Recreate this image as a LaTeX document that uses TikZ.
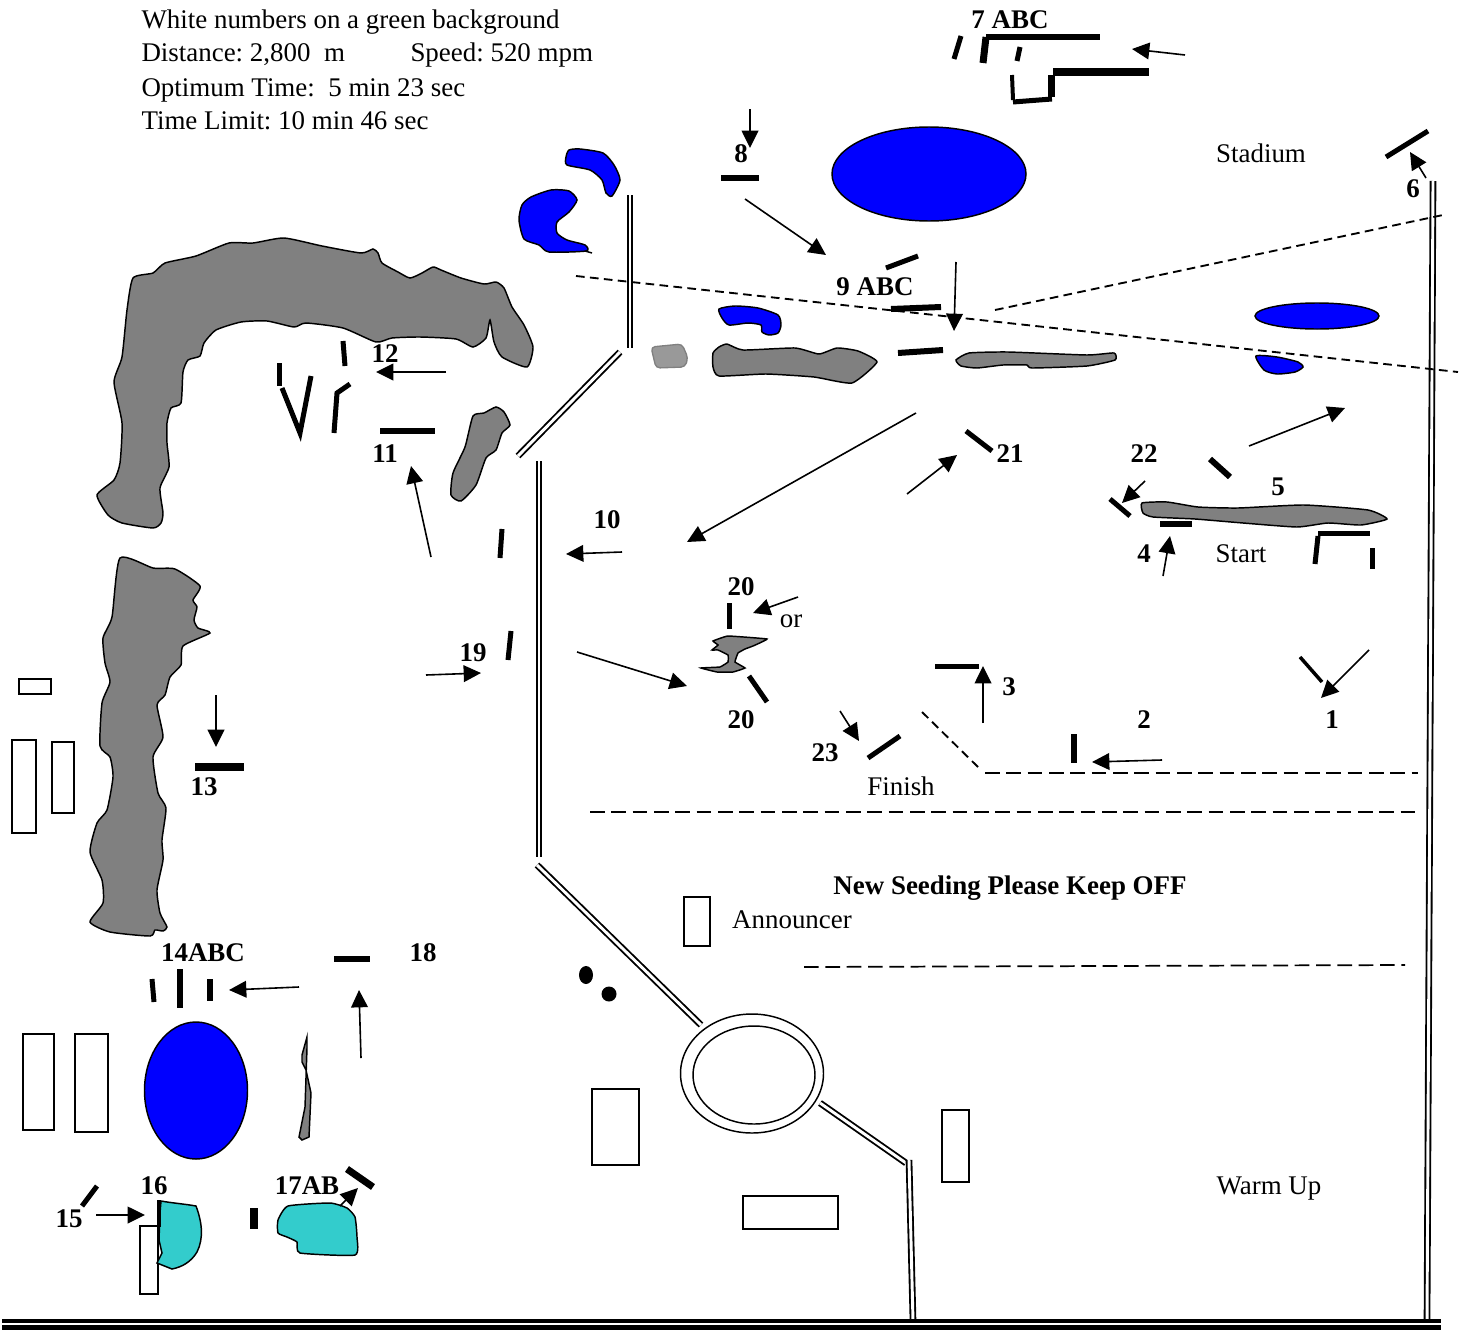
\documentclass[tikz,border=0pt]{standalone}
\usepackage{fontspec}
\setmainfont{Liberation Serif}
\usetikzlibrary{arrows.meta}
\definecolor{waterblue}{RGB}{0,0,255}
\definecolor{hedgegrey}{RGB}{128,128,128}
\definecolor{pondteal}{RGB}{51,204,204}
\tikzset{every picture/.style={line width=0.75pt},
  fence/.style={line width=#1*0.75pt},
  fence/.default=5,
  flowarrow/.style={line width=1.2pt,-{Triangle[length=13pt,width=12.5pt]}},
  roadline/.style={double,double distance=2.2pt,line width=1.4pt},
  hutbox/.style={draw,line width=1.1pt,fill=white},
  hedge/.style={draw,line width=1.1pt,fill=hedgegrey},
  water/.style={draw,line width=1.1pt,fill=waterblue},
  teal area/.style={draw,line width=1.1pt,fill=pondteal},
  ropeline/.style={line width=1.3pt,dash pattern=on 11pt off 5pt},
  ropefine/.style={line width=1.4pt,dash pattern=on 6.5pt off 4pt},
  lbl/.style={anchor=base,inner sep=0pt,font=\fontsize{20.2}{24}\selectfont\frenchspacing},
  numlbl/.style={lbl,font=\fontsize{20.2}{24}\selectfont\frenchspacing\bfseries},
  headlbl/.style={lbl,anchor=base west}}

\begin{document}
\begin{tikzpicture}[x=0.75pt,y=0.75pt,yscale=-1,xscale=1]
\useasboundingbox (0,0) rectangle (1462,1331);

%Shape: Grey hedges
\draw [hedge] plot [smooth cycle,tension=0.35] coordinates {(133,278) (153,273) (165,263) (196,256) (229,243) (253,243) (284,238) (322,246) (361,253) (373,249) (378,253) (382,263) (398,272) (410,278) (422,273) (433,267) (441,270) (461,278) (484,284) (496,282) (504,288) (512,307) (524,325) (533,347) (527,367) (502,357) (494,342) (490,320) (486,338) (473,347) (456,339) (420,337) (392,338) (376,342) (343,328) (306,323) (294,327) (267,321) (241,322) (216,330) (204,343) (200,356) (188,360) (183,372) (181,403) (171,408) (167,423) (167,443) (169,467) (160,488) (163,513) (161,523) (153,528) (122,523) (108,515) (97,495) (114,480) (120,463) (122,423) (114,382) (122,357) (127,310)};
\draw [hedge] plot [smooth cycle,tension=0.35] coordinates {(120,558) (153,568) (175,569) (200,586) (193,600) (197,607) (194,620) (198,628) (210,633) (183,646) (181,665) (170,677) (165,695) (157,705) (163,737) (153,757) (158,793) (166,808) (162,840) (163,860) (157,890) (160,913) (167,927) (163,931) (155,930) (150,936) (110,932) (90,922) (103,903) (102,880) (90,852) (97,823) (107,810) (113,777) (110,757) (100,746) (102,703) (110,682) (105,663) (103,638) (112,617)};
\draw [hedge] plot [smooth cycle,tension=0.35] coordinates {(473,416) (484,413) (496,407) (504,412) (510,425) (502,433) (496,450) (486,458) (476,485) (461,501) (451,495) (453,473) (465,447)};
\draw [hedge] plot [smooth cycle,tension=0.3] coordinates {(719,347) (727,344) (743,350) (795,348) (819,354) (837,348) (858,351) (877,362) (852,383) (814,377) (766,374) (719,376) (713,367) (713,353)};
\draw [hedge] plot [smooth cycle,tension=0.3] coordinates {(956,360) (969,353) (1008,352) (1087,355) (1114,353) (1115,360) (1087,366) (1032,368) (1027,365) (1003,365) (977,368) (961,366)};
\draw [hedge] plot [smooth cycle,tension=0.3] coordinates {(1142,503) (1167,502) (1198,507) (1238,508) (1304,505) (1368,510) (1387,519) (1361,525) (1328,523) (1297,527) (1243,523) (1195,519) (1153,517) (1143,513)};
\draw [hedge] plot [smooth cycle,tension=0.15] coordinates {(713,641) (728,636) (767,639) (753,646) (745,649) (738,653) (735,662) (745,668) (733,672) (717,672) (701,668) (720,667) (728,662) (728,655) (718,650) (712,650) (718,645)};
\draw [hedge] (307,1037) -- (302,1055) -- (302,1062) -- (306,1070) -- (311,1093) -- (309,1137) -- (302,1140) -- (299,1137) -- (305,1107) -- (307,1048) -- cycle;
\draw [draw=hedgegrey,fill=hedgegrey!80,line width=1pt,rounded corners=3pt] (651,347) -- (682,344) -- (688,358) -- (685,367) -- (656,368) -- cycle;

%Shape: Water
\draw [water] (929,174) ellipse (97 and 47);
\draw [water] (1317,316) ellipse (62 and 13);
\draw [water] (196,1090.5) ellipse (51.5 and 68.5);
\draw [water] plot [smooth cycle,tension=0.4] coordinates {(569,150) (580,149) (603,153) (614,165) (620,180) (612,196) (606,193) (602,180) (590,170) (567,165) (566,157)};
\draw [water] plot [smooth cycle,tension=0.4] coordinates {(522,205) (531,197) (551,190) (569,191) (577,200) (569,212) (557,222) (557,233) (567,240) (585,245) (586,251) (549,252) (539,245) (524,239) (519,220)};
\draw [line width=1.1pt] (585,251) -- (592,253);
\draw [water] plot [smooth cycle,tension=0.4] coordinates {(719,309) (735,306) (758,308) (778,315) (781,325) (778,333) (769,335) (762,332) (761,325) (748,323) (729,325) (722,318)};
\draw [water] plot [smooth cycle,tension=0.4] coordinates {(1256,356) (1277,357) (1298,362) (1303,367) (1295,372) (1277,374) (1264,370)};

%Shape: Teal ponds
\draw [teal area] plot [smooth cycle,tension=0.3] coordinates {(288,1206) (330,1203) (347,1208) (355,1217) (357,1237) (355,1255) (300,1253) (297,1242) (287,1237) (278,1233) (278,1220)};

%Shape: Rectangles
\draw [hutbox] (19,679) rectangle (51,694);
\draw [hutbox] (12,740) rectangle (36,833);
\draw [hutbox] (52,742) rectangle (74,813);
\draw [hutbox] (23,1034) rectangle (54,1130);
\draw [hutbox] (75,1034) rectangle (108,1132);
\draw [hutbox] (140,1226) rectangle (158,1294);
\draw [hutbox] (684,897) rectangle (710,946);
\draw [hutbox] (592,1089) rectangle (639,1165);
\draw [hutbox] (743,1196) rectangle (838,1229);
\draw [hutbox] (942,1110) rectangle (969,1182);
\draw [teal area] (161,1201) .. controls (172,1203) and (185,1204) .. (196,1206) .. controls (202,1222) and (204,1238) .. (197,1252) .. controls (191,1262) and (182,1267) .. (172,1269) -- (157,1263) -- (162,1253) -- (159,1240) -- (160,1213) -- cycle;
\draw [fence=4] (159,1200) -- (159,1227);

%Shape: Ring
\draw [line width=1.1pt] (752,1073.5) ellipse (71.5 and 59.5);
\draw [line width=1.1pt] (754,1075) ellipse (61 and 49);
\fill (586,975) ellipse (7 and 9);
\fill (609,994) circle (7.5);

%Straight Lines: roads
\draw [roadline] (630,195) -- (630,348);
\draw [roadline] (620,352) -- (518,456);
\draw [roadline] (539,461) -- (539,857);
\draw [roadline] (537,865) -- (701,1025);
\draw [roadline] (820,1103) -- (906,1163);
\draw [roadline] (909,1160) -- (913,1321);
\draw [roadline] (1433,181) -- (1427,1321);
\draw [line width=2.3pt] (2,1321) -- (1441,1321);
\draw [line width=3.6pt] (2,1327.5) -- (1441,1327.5);

%Straight Lines: dashed ropes
\draw [ropefine] (576,276) -- (1458,372);
\draw [ropefine] (995,310) -- (1443,215);
\draw [ropefine] (922,712) -- (978,767);
\draw [ropeline] (985,773) -- (1418,773);
\draw [ropeline] (590,812) -- (1420,812);
\draw [ropeline] (804,967) -- (1405,965);

%Straight Lines: fences
\draw [fence] (961,36) -- (954,59);
\draw [fence=6] (986,37) -- (1100,37);
\draw [fence=7] (986,37) -- (983,63);
\draw [fence] (1020,47) -- (1017,61);
\draw [fence=4] (1012,75) -- (1013,100);
\draw [fence] (1013,102) -- (1052,99);
\draw [fence=7] (1051,75) -- (1051,97);
\draw [fence=8] (1053,72) -- (1149,72);
\draw [fence=6] (721,178) -- (759,178);
\draw [fence] (1386,157) -- (1428,131);
\draw [fence] (886,268) -- (918,256);
\draw [fence=6] (891,309) -- (941,307);
\draw [fence=6] (898,353) -- (943,350);
\draw [fence] (343,341) -- (345,366);
\draw [fence] (279,363) -- (279,386);
\draw [fence,line join=miter] (282,388) -- (300,433) -- (311,376);
\draw [fence] (334,433) -- (337,393) -- (350,384);
\draw [fence=6] (380,431) -- (435,431);
\draw [fence] (502,529) -- (500,558);
\draw [fence] (511,631) -- (508,660);
\draw [fence] (966,431) -- (992,451);
\draw [fence=6] (1210,459) -- (1230,477);
\draw [fence] (1110,499) -- (1130,516);
\draw [fence=6] (1160,524) -- (1192,524);
\draw [fence] (1318,533) -- (1370,533);
\draw [fence] (1318,536) -- (1315,564);
\draw [fence] (1372,548) -- (1372,569);
\draw [fence] (729,603) -- (729,629);
\draw [fence] (749,676) -- (767,702);
\draw [fence] (935,666) -- (979,666);
\draw [fence] (868,758) -- (900,736);
\draw [fence=6] (1074,734) -- (1074,763);
\draw [fence=3.5] (1300,657) -- (1322,682);
\draw [fence=8] (195,767) -- (244,767);
\draw [fence] (152,979) -- (154,1002);
\draw [fence=6] (180,969) -- (180,1008);
\draw [fence=6] (210,979) -- (210,1001);
\draw [fence=6] (334,959) -- (370,959);
\draw [fence] (82,1206) -- (97,1186);
\draw [fence=8] (254,1208) -- (254,1229);
\draw [fence=7] (347,1169) -- (373,1187);

%Straight Lines: arrows
\draw [flowarrow] (750,109) -- (750,148);
\draw [flowarrow] (745,199) -- (826,255);
\draw [flowarrow] (956,262) -- (954,331);
\draw [flowarrow] (1185,55) -- (1132,49);
\draw [flowarrow] (1426,178) -- (1410,152);
\draw [flowarrow] (446,372) -- (376,372);
\draw [flowarrow] (431,557) -- (411,466);
\draw [flowarrow] (622,552) -- (566,554);
\draw [flowarrow] (426,675) -- (481,673);
\draw [flowarrow] (577,652) -- (687,686);
\draw [flowarrow] (798,597) -- (753,613);
\draw [flowarrow] (916,413) -- (687,542);
\draw [flowarrow] (907,494) -- (957,455);
\draw [flowarrow] (1249,446) -- (1345,408);
\draw [flowarrow] (1145,481) -- (1122,503);
\draw [flowarrow] (1163,576) -- (1170,536);
\draw [flowarrow] (1369,650) -- (1321,698);
\draw [flowarrow] (1162,760) -- (1092,762);
\draw [flowarrow] (983,723) -- (983,666);
\draw [flowarrow] (840,711) -- (859,741);
\draw [flowarrow] (216,695) -- (216,747);
\draw [flowarrow] (299,987) -- (229,990);
\draw [flowarrow] (361,1058) -- (359,990);
\draw [flowarrow] (96,1215) -- (145,1215);
\draw [flowarrow] (340,1206) -- (358,1188);

% Text Node
\draw (141,29) node (headA) [headlbl] {White numbers on a green background};
% Text Node
\draw (141,62) node (headB) [headlbl] {Distance: 2,800\ \ m};
% Text Node
\draw (410,62) node (headC) [headlbl] {Speed: 520 mpm};
% Text Node
\draw (141,96) node (headD) [headlbl] {Optimum Time:\ \ 5 min 23 sec};
% Text Node
\draw (141,129) node (headE) [headlbl] {Time Limit: 10 min 46 sec};
% Text Node
\draw (1261,162) node (stadium) [lbl] {Stadium};
% Text Node
\draw (1241,562) node (start) [lbl] {Start};
% Text Node
\draw (791,627) node (orlbl) [lbl] {or};
% Text Node
\draw (901,795) node (finish) [lbl] {Finish};
% Text Node
\draw (792,928) node (announcer) [lbl] {Announcer};
% Text Node
\draw (1269,1194) node (warmup) [lbl] {Warm Up};
% Text Node
\draw (1010,894) node (seeding) [numlbl] {New Seeding Please Keep OFF};
% Text Node
\draw (1010,29) node (numSeven) [numlbl] {7 ABC};
\draw (741,162) node (numEight) [numlbl] {8};
\draw (875,295) node (numNine) [numlbl] {9 ABC};
\draw (1413,197) node (numSix) [numlbl] {6};
\draw (385,362) node (numTwelve) [numlbl] {12};
\draw (385,462) node (numEleven) [numlbl] {11};
\draw (607,528) node (numTen) [numlbl] {10};
\draw (473,661) node (numNineteen) [numlbl] {19};
\draw (741,595) node (numTwentyA) [numlbl] {20};
\draw (741,728) node (numTwentyB) [numlbl] {20};
\draw (1010,462) node (numTwentyOne) [numlbl] {21};
\draw (1144,462) node (numTwentyTwo) [numlbl] {22};
\draw (1278,495) node (numFive) [numlbl] {5};
\draw (1144,562) node (numFour) [numlbl] {4};
\draw (1009,695) node (numThree) [numlbl] {3};
\draw (1144,728) node (numTwo) [numlbl] {2};
\draw (1332,728) node (numOne) [numlbl] {1};
\draw (825,761) node (numTwentyThree) [numlbl] {23};
\draw (204,795) node (numThirteen) [numlbl] {13};
\draw (203,961) node (numFourteen) [numlbl] {14ABC};
\draw (423,961) node (numEighteen) [numlbl] {18};
\draw (69,1227) node (numFifteen) [numlbl] {15};
\draw (154,1194) node (numSixteen) [numlbl] {16};
\draw (307,1194) node (numSeventeen) [numlbl] {17AB};

\end{tikzpicture}
\end{document}
